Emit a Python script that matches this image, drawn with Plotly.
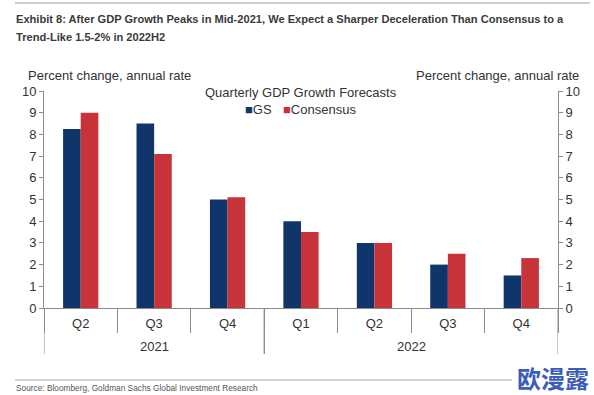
import plotly.graph_objects as go

quarters = ["Q2", "Q3", "Q4", "Q1", "Q2", "Q3", "Q4"]
years = ["2021", "2022"]
year_spans = [(0, 2), (3, 6)]  # first/last category index of each year
gs = [8.25, 8.5, 5.0, 4.0, 3.0, 2.0, 1.5]
consensus = [9.0, 7.1, 5.1, 3.5, 3.0, 2.5, 2.3]
y_ticks = list(range(0, 11))

NAVY = "#10356a"
RED = "#c8333a"
AXIS = "#8c8c8c"
TXT = "#333333"
FONT = "Liberation Sans, Arial, sans-serif"

idx = list(range(len(quarters)))
bounds = [i - 0.5 for i in range(len(quarters) + 1)]

fig = go.Figure()
fig.add_trace(go.Bar(x=idx, y=gs, name="GS", marker_color=NAVY,
                     marker_line_width=0, showlegend=False))
fig.add_trace(go.Bar(x=idx, y=consensus, name="Consensus",
                     marker_color=RED, marker_line_width=0, showlegend=False))
fig.add_trace(go.Scatter(x=idx, y=gs, yaxis="y2", mode="markers",
                         marker_opacity=0, hoverinfo="skip", showlegend=False))

fig.update_layout(
    width=594, height=395,
    margin=dict(l=44, r=36, t=91, b=87),
    paper_bgcolor="white", plot_bgcolor="white",
    barmode="group", bargap=0.52, bargroupgap=0,
    font=dict(family=FONT, size=13, color=TXT),
    xaxis=dict(range=[-0.5, 6.5], tickvals=idx, ticktext=quarters, showline=True,
               linecolor=AXIS, linewidth=1, ticks="", ticklabelstandoff=3,
               showgrid=False, zeroline=False, tickfont=dict(size=13, color=TXT),
               minor=dict(tickvals=bounds, ticks="outside", ticklen=24,
                          tickcolor=AXIS, showgrid=False)),
    yaxis=dict(range=[0, 10], tickvals=y_ticks, showline=True, linecolor=AXIS,
               ticks="outside", ticklen=4, tickcolor=AXIS, showgrid=False,
               zeroline=False, tickfont=dict(size=13, color=TXT)),
    yaxis2=dict(range=[0, 10], tickvals=y_ticks, overlaying="y", side="right",
                showline=True, linecolor=AXIS, ticks="outside", ticklen=4,
                tickcolor=AXIS, showgrid=False, zeroline=False,
                tickfont=dict(size=13, color=TXT)),
)

W, H = 514, 217  # plot area in px
def px(x):
    return (x - 44) / W
def py(y):
    return (308 - y) / H

# year dividers and labels
for (a, b), yr in zip(year_spans, years):
    for xb in (a - 0.5, b + 0.5):
        fig.add_shape(type="line", xref="x", yref="paper", x0=xb, x1=xb,
                      y0=py(308), y1=py(354), line=dict(color=AXIS, width=1))
    fig.add_annotation(text=yr, x=(a + b) / 2, xref="x", y=py(346), yref="paper",
                       showarrow=False, yanchor="middle",
                       font=dict(size=13, color=TXT))

fig.add_shape(type="line", xref="paper", yref="paper", x0=px(15), x1=px(590),
              y0=py(3), y1=py(3), line=dict(color="#9a9a9a", width=1))
fig.add_shape(type="line", xref="paper", yref="paper", x0=px(15), x1=px(512),
              y0=py(380), y1=py(380), line=dict(color="#aaaaaa", width=1))

title_lines = [
    "Exhibit 8: After GDP Growth Peaks in Mid-2021, We Expect a Sharper Deceleration Than Consensus to a",
    "Trend-Like 1.5-2% in 2022H2",
]

ann = [
    dict(text=f"<b>{title_lines[0]}</b>", x=px(14), y=py(19), xanchor="left",
         yanchor="middle", font=dict(family=FONT, size=11.1, color="#3a3a3a")),
    dict(text=f"<b>{title_lines[1]}</b>", x=px(14), y=py(37), xanchor="left",
         yanchor="middle", font=dict(family=FONT, size=11.1, color="#3a3a3a")),
    dict(text="Percent change, annual rate", x=px(26), y=py(75), xanchor="left",
         yanchor="middle", font=dict(size=13, color=TXT)),
    dict(text="Percent change, annual rate", x=px(581), y=py(75), xanchor="right",
         yanchor="middle", font=dict(size=13, color=TXT)),
    dict(text="Quarterly GDP Growth Forecasts", x=px(301), y=py(92), xanchor="center",
         yanchor="middle", font=dict(size=13, color=TXT)),
    dict(text=f"<span style='color:{NAVY}'>■</span>GS", x=px(243), y=py(110),
         xanchor="left", yanchor="middle", font=dict(size=13, color=TXT)),
    dict(text=f"<span style='color:{RED}'>■</span>Consensus", x=px(281), y=py(110),
         xanchor="left", yanchor="middle", font=dict(size=13, color=TXT)),
    dict(text="Source: Bloomberg, Goldman Sachs Global Investment Research",
         x=px(14), y=py(388), xanchor="left", yanchor="middle",
         font=dict(family=FONT, size=8.3, color="#555555")),
    dict(text="<b>欧漫露</b>", x=px(553), y=py(377), xanchor="center", yanchor="middle",
         font=dict(family="Noto Sans CJK SC", size=24, color="#3d5cb8")),
]
for a in ann:
    a.update(xref="paper", yref="paper", showarrow=False)
    fig.add_annotation(**a)

fig.write_html("out.html", config={"displayModeBar": False},
               post_script="document.body.style.margin='0';")
